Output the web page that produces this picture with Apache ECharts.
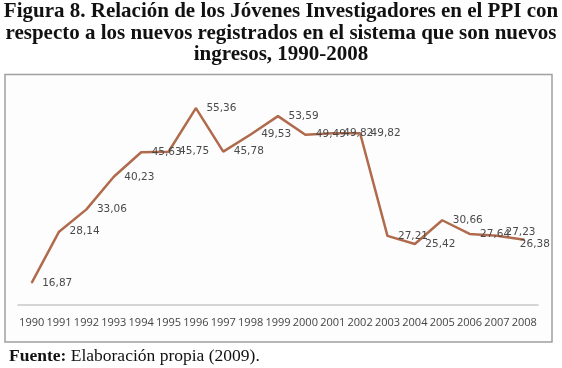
<!DOCTYPE html>
<html>
<head>
<meta charset="utf-8">
<script src="https://cdn.jsdelivr.net/npm/echarts@6/dist/echarts.min.js"></script>
<style>
  html, body { margin: 0; padding: 0; background: #fff; }
  #chart { width: 562px; height: 368px; }
</style>
</head>
<body>
<div id="chart"></div>
<script>
// años y porcentaje de jóvenes investigadores
var years = ['1990', '1991', '1992', '1993', '1994', '1995', '1996', '1997', '1998', '1999',
             '2000', '2001', '2002', '2003', '2004', '2005', '2006', '2007', '2008'];
var values = [16.87, 28.14, 33.06, 40.23, 45.63, 45.75, 55.36, 45.78, 49.53, 53.59,
              49.49, 49.82, 49.82, 27.21, 25.42, 30.66, 27.64, 27.23, 26.38];

var titleLines = [
  'Figura 8. Relación de los Jóvenes Investigadores en el PPI con',
  'respecto a los nuevos registrados en el sistema que son nuevos',
  'ingresos, 1990-2008'
];

// ajuste de etiquetas al final de la serie (como en el original)
var labelShift = { 17: [-2, -4], 18: [-15, 5] };

var myChart = echarts.init(document.getElementById('chart'));

var option = {
  backgroundColor: '#fff',
  animation: false,
  graphic: [
    {
      type: 'rect',
      z: -1,
      shape: { x: 5, y: 74.5, width: 547, height: 267.5 },
      style: { fill: '#fdfdfd', stroke: '#a0a0a0', lineWidth: 1.5 }
    },
    {
      type: 'text',
      x: 281,
      y: 1,
      style: {
        text: titleLines.join('\n'),
        font: 'bold 21px "Liberation Serif", serif',
        lineHeight: 21.5,
        fill: '#111',
        align: 'center',
        verticalAlign: 'top'
      }
    },
    {
      type: 'text',
      x: 9,
      y: 347,
      style: {
        text: '{b|Fuente:} Elaboración propia (2009).',
        rich: {
          b: { font: 'bold 17.5px "Liberation Serif", serif', fill: '#111' }
        },
        font: '17.5px "Liberation Serif", serif',
        fill: '#111',
        verticalAlign: 'top'
      }
    }
  ],
  grid: { left: 18, right: 24, top: 87, bottom: 63 },
  xAxis: {
    type: 'category',
    data: years,
    boundaryGap: true,
    axisLine: { lineStyle: { color: '#c8c8c8', width: 1.5 } },
    axisTick: { show: false },
    axisLabel: {
      interval: 0,
      margin: 12,
      color: '#444',
      fontSize: 11,
      fontFamily: 'Open Sans'
    }
  },
  yAxis: {
    type: 'value',
    min: 12,
    max: 60,
    show: false,
    splitLine: { show: false }
  },
  series: [{
    type: 'line',
    data: values,
    showSymbol: true,
    symbol: 'circle',
    symbolSize: 1,
    itemStyle: { color: '#b06a4c' },
    lineStyle: { color: '#b06a4c', width: 2.5 },
    label: {
      show: true,
      position: 'right',
      distance: 10,
      color: '#4a4a4a',
      fontSize: 10.5,
      fontFamily: 'DejaVu Sans',
      formatter: function (p) {
        return p.value.toFixed(2).replace('.', ',');
      }
    },
    labelLayout: function (params) {
      var s = labelShift[params.dataIndex];
      if (s) {
        return { dx: s[0], dy: s[1], hideOverlap: false };
      }
      return { hideOverlap: false };
    }
  }]
};

myChart.setOption(option);
</script>
</body>
</html>
